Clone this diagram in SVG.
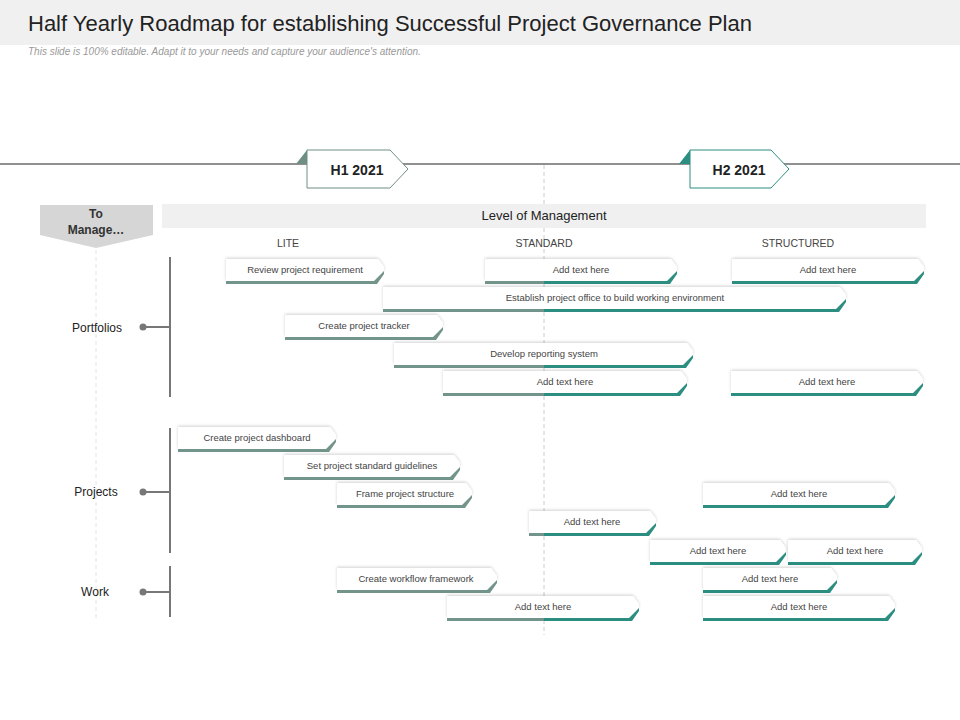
<svg xmlns="http://www.w3.org/2000/svg" width="960" height="720" viewBox="0 0 960 720">
<defs>
<linearGradient id="strip" gradientUnits="userSpaceOnUse" x1="0" y1="0" x2="960" y2="0">
<stop offset="0.5667" stop-color="#73948a"/><stop offset="0.5667" stop-color="#2b8e80"/>
</linearGradient>
<filter id="sh" x="-5%" y="-30%" width="110%" height="180%"><feDropShadow dx="0" dy="-1" stdDeviation="1.5" flood-color="#000" flood-opacity="0.18"/></filter>
</defs>
<style>
text{font-family:"Liberation Sans",Arial,sans-serif}
.bt{font-size:9.5px;fill:#444;text-anchor:middle}
.w{fill:#fff;filter:url(#sh)}
.s{fill:url(#strip)}
.lab{font-size:12px;fill:#222;text-anchor:middle}
.col{font-size:10.5px;fill:#444;text-anchor:middle}
</style>
<rect width="960" height="720" fill="#fff"/>
<rect width="960" height="45" fill="#f0f0f0"/>
<text x="28" y="31" font-size="22" fill="#222">Half Yearly Roadmap for establishing Successful Project Governance Plan</text>
<text x="28" y="55" font-size="10" font-style="italic" fill="#999">This slide is 100% editable. Adapt it to your needs and capture your audience's attention.</text>
<g id="guides" stroke="#ccc" stroke-dasharray="4,3" fill="none">
<line x1="544" y1="165" x2="544" y2="635"/>
<line x1="96" y1="250" x2="96" y2="620" stroke="#e4e4e4"/>
</g>
<line x1="0" y1="164" x2="960" y2="164" stroke="#222" stroke-width="1.2"/>
<g id="h1">
<polygon points="296,164 307,150 307,164" fill="#6f8f84"/>
<polygon points="307,150 390,150 408,169 390,188 307,188" fill="#fff" stroke="#6f8f84"/>
<text x="357" y="175" font-size="14" font-weight="bold" text-anchor="middle" fill="#222">H1 2021</text>
</g>
<g id="h2">
<polygon points="679,164 690,150 690,164" fill="#2b8e80"/>
<polygon points="690,150 771,150 789,169 771,188 690,188" fill="#fff" stroke="#2b8e80"/>
<text x="739" y="175" font-size="14" font-weight="bold" text-anchor="middle" fill="#222">H2 2021</text>
</g>
<g id="tomanage">
<polygon points="40,205 153,205 153,235 96,248 40,235" fill="#d6d6d6"/>
<text x="96" y="218" font-size="12" font-weight="bold" fill="#333" text-anchor="middle">To</text>
<text x="96" y="234" font-size="12" font-weight="bold" fill="#333" text-anchor="middle">Manage…</text>
</g>
<g id="header-band">
<rect x="162" y="204" width="764" height="24" fill="#f0f0f0"/>
<text x="544" y="220" font-size="13" fill="#222" text-anchor="middle">Level of Management</text>
<text class="col" x="288" y="247">LITE</text>
<text class="col" x="544" y="247">STANDARD</text>
<text class="col" x="798" y="247">STRUCTURED</text>
</g>
<g id="connectors" stroke="#777" stroke-width="2" fill="none">
<line x1="170" y1="257" x2="170" y2="397"/>
<line x1="170" y1="428" x2="170" y2="553"/>
<line x1="170" y1="566" x2="170" y2="617"/>
<line x1="143" y1="327" x2="170" y2="327"/>
<line x1="143" y1="492" x2="170" y2="492"/>
<line x1="143" y1="592" x2="170" y2="592"/>
<circle cx="143" cy="327" r="3.5" fill="#777" stroke="none"/>
<circle cx="143" cy="492" r="3.5" fill="#777" stroke="none"/>
<circle cx="143" cy="592" r="3.5" fill="#777" stroke="none"/>
</g>
<g id="labels">
<text class="lab" x="97" y="332">Portfolios</text>
<text class="lab" x="96" y="496">Projects</text>
<text class="lab" x="95" y="596">Work</text>
</g>
<g id="bar1"><polygon class="w" points="226,259 378,259 384,267 384,271 374,281 226,281"/><polygon class="s" points="226,281 374,281 384,271 384,274 377,284 226,284"/><text class="bt" x="305" y="273">Review  project requirement</text></g>
<g id="bar2"><polygon class="w" points="485,259 671,259 677,267 677,271 667,281 485,281"/><polygon class="s" points="485,281 667,281 677,271 677,274 670,284 485,284"/><text class="bt" x="581" y="273">Add text here</text></g>
<g id="bar3"><polygon class="w" points="732,259 918,259 924,267 924,271 914,281 732,281"/><polygon class="s" points="732,281 914,281 924,271 924,274 917,284 732,284"/><text class="bt" x="828" y="273">Add text here</text></g>
<g id="bar4"><polygon class="w" points="383,287 840,287 846,295 846,299 836,309 383,309"/><polygon class="s" points="383,309 836,309 846,299 846,302 839,312 383,312"/><text class="bt" x="615" y="301">Establish project office to build working environment</text></g>
<g id="bar5"><polygon class="w" points="285,315 437,315 443,323 443,327 433,337 285,337"/><polygon class="s" points="285,337 433,337 443,327 443,330 436,340 285,340"/><text class="bt" x="364" y="329">Create project tracker</text></g>
<g id="bar6"><polygon class="w" points="394,343 687,343 693,351 693,355 683,365 394,365"/><polygon class="s" points="394,365 683,365 693,355 693,358 686,368 394,368"/><text class="bt" x="544" y="357">Develop reporting system</text></g>
<g id="bar7"><polygon class="w" points="443,371 681,371 687,379 687,383 677,393 443,393"/><polygon class="s" points="443,393 677,393 687,383 687,386 680,396 443,396"/><text class="bt" x="565" y="385">Add text here</text></g>
<g id="bar8"><polygon class="w" points="731,371 917,371 923,379 923,383 913,393 731,393"/><polygon class="s" points="731,393 913,393 923,383 923,386 916,396 731,396"/><text class="bt" x="827" y="385">Add text here</text></g>
<g id="bar9"><polygon class="w" points="178,427 330,427 336,435 336,439 326,449 178,449"/><polygon class="s" points="178,449 326,449 336,439 336,442 329,452 178,452"/><text class="bt" x="257" y="441">Create project dashboard</text></g>
<g id="bar10"><polygon class="w" points="284,455 454,455 460,463 460,467 450,477 284,477"/><polygon class="s" points="284,477 450,477 460,467 460,470 453,480 284,480"/><text class="bt" x="372" y="469">Set project standard guidelines</text></g>
<g id="bar11"><polygon class="w" points="337,483 466,483 472,491 472,495 462,505 337,505"/><polygon class="s" points="337,505 462,505 472,495 472,498 465,508 337,508"/><text class="bt" x="405" y="497">Frame project structure</text></g>
<g id="bar12"><polygon class="w" points="703,483 889,483 895,491 895,495 885,505 703,505"/><polygon class="s" points="703,505 885,505 895,495 895,498 888,508 703,508"/><text class="bt" x="799" y="497">Add text here</text></g>
<g id="bar13"><polygon class="w" points="529,511 650,511 656,519 656,523 646,533 529,533"/><polygon class="s" points="529,533 646,533 656,523 656,526 649,536 529,536"/><text class="bt" x="592" y="525">Add text here</text></g>
<g id="bar14"><polygon class="w" points="650,540 780,540 786,548 786,552 776,562 650,562"/><polygon class="s" points="650,562 776,562 786,552 786,555 779,565 650,565"/><text class="bt" x="718" y="554">Add text here</text></g>
<g id="bar15"><polygon class="w" points="788,540 916,540 922,548 922,552 912,562 788,562"/><polygon class="s" points="788,562 912,562 922,552 922,555 915,565 788,565"/><text class="bt" x="855" y="554">Add text here</text></g>
<g id="bar16"><polygon class="w" points="337,568 491,568 497,576 497,580 487,590 337,590"/><polygon class="s" points="337,590 487,590 497,580 497,583 490,593 337,593"/><text class="bt" x="416" y="582">Create workflow framework</text></g>
<g id="bar17"><polygon class="w" points="703,568 831,568 837,576 837,580 827,590 703,590"/><polygon class="s" points="703,590 827,590 837,580 837,583 830,593 703,593"/><text class="bt" x="770" y="582">Add text here</text></g>
<g id="bar18"><polygon class="w" points="447,596 633,596 639,604 639,608 629,618 447,618"/><polygon class="s" points="447,618 629,618 639,608 639,611 632,621 447,621"/><text class="bt" x="543" y="610">Add text here</text></g>
<g id="bar19"><polygon class="w" points="703,596 889,596 895,604 895,608 885,618 703,618"/><polygon class="s" points="703,618 885,618 895,608 895,611 888,621 703,621"/><text class="bt" x="799" y="610">Add text here</text></g>
</svg>
